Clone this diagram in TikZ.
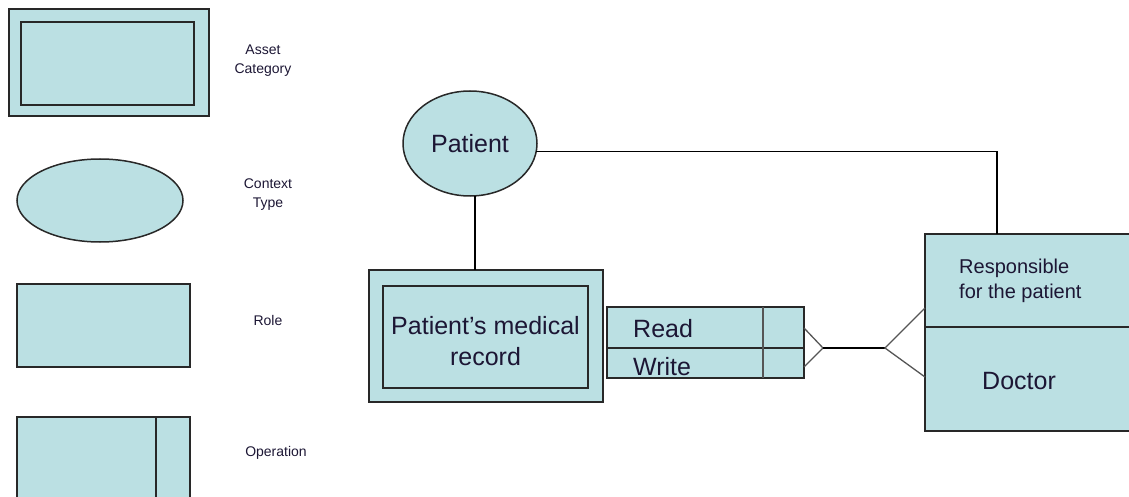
\documentclass[tikz,border=0pt]{standalone}
\usepackage{fontspec}
\setmainfont{Liberation Sans}
\usetikzlibrary{shapes.geometric,calc}

\definecolor{boxfill}{RGB}{187,224,227}
\definecolor{edgegray}{RGB}{40,40,40}
\definecolor{footgray}{RGB}{85,85,85}
\definecolor{ink}{RGB}{28,22,52}

\begin{document}
\begin{tikzpicture}[x=1pt,y=-1pt,
  shapebox/.style={draw=edgegray, fill=boxfill, line width=1.5pt,
    inner sep=0pt, outer sep=0pt},
  ovalbox/.style={shapebox, ellipse},
  legendtext/.style={text=ink, align=center, font=\fontsize{14}{19}\selectfont},
  bigtext/.style={text=ink, font=\fontsize{25}{31}\selectfont},
  wire/.style={draw=black, line width=1.3pt},
  footwire/.style={draw=footgray, line width=1.3pt},
]
\useasboundingbox (0,0) rectangle (1129,497);

% ---- legend ----
\node[shapebox, minimum width=200pt, minimum height=107pt] (assetOuter) at (109,62.5) {};
\node[shapebox, minimum width=173pt, minimum height=83pt]  (assetInner) at (107.5,63.5) {};
\node[legendtext] (assetLbl) at (263,61) {Asset\\Category};

\node[ovalbox, minimum width=166pt, minimum height=83pt] (ctxOval) at (100,200.5) {};
\node[legendtext] (ctxLbl) at (268,195) {Context\\Type};

\node[shapebox, minimum width=173pt, minimum height=83pt] (roleBox) at (103.5,325.5) {};
\node[legendtext] (roleLbl) at (268,320) {Role};

\node[shapebox, minimum width=173pt, minimum height=90pt] (opBox) at (103.5,462) {};
\draw[draw=edgegray, line width=1.5pt] ($(opBox.north west)+(139,0)$) -- ($(opBox.south west)+(139,0)$);
\node[legendtext] (opLbl) at (276,453) {Operation};

% ---- context type: patient ----
\node[ovalbox, minimum width=134pt, minimum height=105pt, bigtext] (patient) at (470,143.5) {Patient};

% ---- asset category: medical record ----
\node[shapebox, minimum width=234pt, minimum height=132pt] (recOuter) at (486,336) {};
\node[shapebox, minimum width=205pt, minimum height=102pt] (recInner) at (485.5,337) {};
\node[bigtext, align=center, inner sep=0pt] (recTxt) at (485.5,341) {Patient’s medical\\record};

% ---- operations: read / write ----
\node[shapebox, minimum width=197pt, minimum height=41pt] (readRow) at (705.5,327.5) {};
\node[shapebox, minimum width=197pt, minimum height=30pt] (writeRow) at (705.5,363) {};
\draw[draw=footgray, line width=2.5pt] ($(readRow.north west)+(156,0)$) -- ($(writeRow.south west)+(156,0)$);
\node[bigtext, anchor=base west, inner sep=0pt] (readTxt) at (633,337) {Read};
\node[bigtext, anchor=base west, inner sep=0pt] (writeTxt) at (633,375) {Write};

% ---- role: doctor ----
\node[shapebox, minimum width=215pt, minimum height=93pt] (respBox) at (1032.5,280.5) {};
\node[shapebox, minimum width=215pt, minimum height=104pt] (doctorBox) at (1032.5,379) {};
\node[text=ink, anchor=west, inner sep=0pt, align=left, font=\fontsize{20}{25}\selectfont]
  (respTxt) at (959,281) {Responsible\\for the patient};
\node[bigtext, anchor=base west, inner sep=0pt] (doctorTxt) at (982,389) {Doctor};

% ---- connectors ----
\draw[wire] ($(patient.south)+(5,0)$) -- ($(recOuter.north west)+(106,0)$);
\draw[wire] (patient.-7) -| ($(respBox.north west)+(72,0)$);

\coordinate (footL) at (823,348);
\coordinate (footR) at (885,348);
\draw[footwire] ($(readRow.east)+(0,0.5)$) -- (footL) -- ($(writeRow.east)+(0,4)$);
\draw[wire] (footL) -- (footR);
\draw[footwire] ($(respBox.south west)+(0,-19)$) -- (footR) -- ($(doctorBox.north west)+(0,50)$);
\end{tikzpicture}
\end{document}
